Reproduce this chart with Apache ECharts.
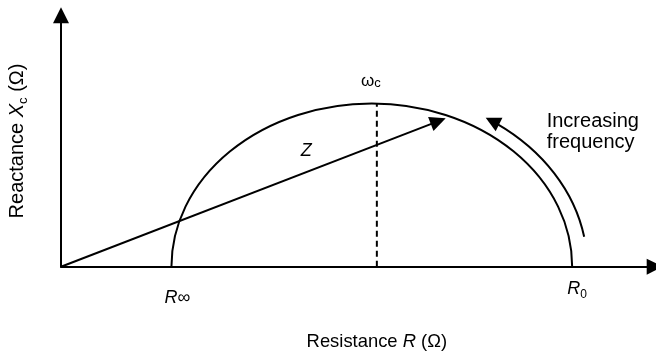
<!DOCTYPE html>
<html><head><meta charset="utf-8">
<script src="https://cdn.jsdelivr.net/npm/echarts@6/dist/echarts.min.js"></script>
<style>html,body{margin:0;padding:0;background:#fff}#c{width:656px;height:353px}</style>
</head><body><div id="c"></div>
<script>
// ---- values (arbitrary Ω units) ----
const resistanceRange = [0, 100];
const reactanceRange = [0, 52];
const rInfinity = 18.6;          // high-frequency intercept R∞
const rZero = 86.1;              // low-frequency intercept R0
const omegaCMarker = [[53.2, 0], [53.2, 33.7]];   // characteristic frequency (dashed)
const zVector = [0, 0, 64.8, 30.7];               // impedance vector Z: from, to
const freqArcRadius = 36.3;                       // "increasing frequency" arrow radius
const freqArcAngles = [9.8, 58.1];                // start / end angle, degrees
const texts = {
  xName: 'Resistance {i|R} (Ω)',
  yName: 'Reactance {i|X}{s|c} (Ω)',
  rInf: '{i|R}∞',
  rZero: '{i|R}{s|0}',
  omega: 'ω{s|c}',
  z: 'Z',
  freq: 'Increasing\nfrequency'
};

const FONT = 'Liberation Sans, Arial, Helvetica, sans-serif';
const BLACK = '#000';
const center = (rInfinity + rZero) / 2;

function arrowHead(tip, dir, len, half) {
  const bx = tip[0] - dir[0] * len, by = tip[1] - dir[1] * len;
  const nx = -dir[1], ny = dir[0];
  return {
    type: 'polygon',
    shape: { points: [tip, [bx + nx * half, by + ny * half], [bx - nx * half, by - ny * half]] },
    style: { fill: BLACK, stroke: null }
  };
}

function richFor(size) {
  return {
    i: { fontStyle: 'italic', fontSize: size, fontFamily: FONT, color: BLACK },
    s: { fontSize: Math.round(size * 0.66), fontFamily: FONT, color: BLACK, padding: [Math.round(size * 0.6), 0, 0, 0] }
  };
}

const chart = echarts.init(document.getElementById('c'), null, { renderer: 'canvas' });
chart.setOption({
  backgroundColor: '#fff',
  animation: false,
  grid: { left: 61, top: 15.3, right: 1.3, bottom: 86.3, containLabel: false, outerBoundsMode: 'none' },
  xAxis: {
    type: 'value', min: resistanceRange[0], max: resistanceRange[1],
    axisLine: { show: true, onZero: false, symbol: ['none', 'triangle'], symbolSize: [16, 16],
      lineStyle: { color: BLACK, width: 2 } },
    axisTick: { show: false }, axisLabel: { show: false }, splitLine: { show: false },
    name: texts.xName, nameLocation: 'middle', nameGap: 66,
    nameTextStyle: { fontSize: 18.4, fontFamily: FONT, color: BLACK, padding: [0, 0, 0, 38], rich: richFor(18.4) }
  },
  yAxis: {
    type: 'value', min: reactanceRange[0], max: reactanceRange[1],
    axisLine: { show: true, onZero: false, symbol: ['none', 'triangle'], symbolSize: [16, 16],
      lineStyle: { color: BLACK, width: 2 } },
    axisTick: { show: false }, axisLabel: { show: false }, splitLine: { show: false },
    name: texts.yName, nameLocation: 'middle', nameGap: 31, nameRotate: 90,
    nameTextStyle: { fontSize: 20, fontFamily: FONT, color: BLACK, rich: richFor(20) }
  },
  series: [
    { // semicircle
      type: 'custom', clip: false, silent: true,
      data: [[rInfinity, rZero]],
      renderItem: function (params, api) {
        const a = api.value(0), b = api.value(1);
        const r = (b - a) / 2;
        const p0 = api.coord([a, 0]), p1 = api.coord([b, 0]);
        const rx = api.size([r, 0])[0], ry = api.size([0, r])[1];
        return {
          type: 'path',
          shape: { pathData: 'M ' + p0[0] + ' ' + p0[1] + ' A ' + rx + ' ' + ry + ' 0 0 1 ' + p1[0] + ' ' + p1[1] },
          style: { fill: 'none', stroke: BLACK, lineWidth: 2 }
        };
      }
    },
    { // dashed omega_c line
      type: 'line', data: omegaCMarker, showSymbol: false, symbol: 'none', silent: true,
      lineStyle: { color: BLACK, width: 2, type: [6, 4] }
    },
    { // impedance vector Z
      type: 'custom', clip: false, silent: true,
      data: [zVector],
      renderItem: function (params, api) {
        const p0 = api.coord([api.value(0), api.value(1)]);
        const p1 = api.coord([api.value(2), api.value(3)]);
        let dx = p1[0] - p0[0], dy = p1[1] - p0[1];
        const L = Math.hypot(dx, dy); dx /= L; dy /= L;
        const len = 16;
        const lineEnd = [p1[0] - dx * (len - 2), p1[1] - dy * (len - 2)];
        return {
          type: 'group',
          children: [
            { type: 'line', shape: { x1: p0[0], y1: p0[1], x2: lineEnd[0], y2: lineEnd[1] },
              style: { stroke: BLACK, lineWidth: 2 } },
            arrowHead(p1, [dx, dy], len, 7.5)
          ]
        };
      }
    },
    { // increasing-frequency arrow
      type: 'custom', clip: false, silent: true,
      data: [[center, freqArcRadius, freqArcAngles[0], freqArcAngles[1]]],
      renderItem: function (params, api) {
        const c = api.value(0), r = api.value(1);
        const t1 = api.value(2) * Math.PI / 180, t2 = api.value(3) * Math.PI / 180;
        const rx = api.size([r, 0])[0], ry = api.size([0, r])[1];
        const tip = api.coord([c + r * Math.cos(t2), r * Math.sin(t2)]);
        let dx = -rx * Math.sin(t2), dy = -ry * Math.cos(t2);
        const speed = Math.hypot(dx, dy); dx /= speed; dy /= speed;
        const len = 15;
        const tEnd = t2 - (len - 2) / speed;
        const s = api.coord([c + r * Math.cos(t1), r * Math.sin(t1)]);
        const e = api.coord([c + r * Math.cos(tEnd), r * Math.sin(tEnd)]);
        return {
          type: 'group',
          children: [
            { type: 'path',
              shape: { pathData: 'M ' + s[0] + ' ' + s[1] + ' A ' + rx + ' ' + ry + ' 0 0 0 ' + e[0] + ' ' + e[1] },
              style: { fill: 'none', stroke: BLACK, lineWidth: 2 } },
            arrowHead(tip, [dx, dy], len, 7.5),
            { type: 'text', x: tip[0] + 61, y: tip[1] - 7,
              style: { text: texts.freq, fontSize: 20, fontFamily: FONT, fill: BLACK,
                align: 'left', verticalAlign: 'top', lineHeight: 21.5 } }
          ]
        };
      }
    },
    { // labels
      type: 'custom', clip: false, silent: true,
      data: [[rInfinity, rZero, omegaCMarker[1][0], omegaCMarker[1][1]]],
      renderItem: function (params, api) {
        const pInf = api.coord([api.value(0), 0]);
        const pZero = api.coord([api.value(1), 0]);
        const pOm = api.coord([api.value(2), api.value(3)]);
        const zMid = api.coord([zVector[2] * 0.64, zVector[3] * 0.64]);
        const mk = function (x, y, text) {
          return { type: 'text', x: x, y: y,
            style: { text: text, rich: richFor(18), fontSize: 18, fontFamily: FONT, fill: BLACK,
              align: 'center', verticalAlign: 'middle' } };
        };
        return {
          type: 'group',
          children: [
            mk(pInf[0] + 6, pInf[1] + 31, texts.rInf),
            mk(pZero[0] + 5, pZero[1] + 22, texts.rZero),
            { type: 'text', x: pOm[0] - 6, y: pOm[1] - 22,
              style: { text: texts.omega, fontSize: 17, fontFamily: FONT, fill: BLACK,
                align: 'center', verticalAlign: 'middle',
                rich: { s: { fontSize: 13, fontFamily: FONT, color: BLACK, padding: [3, 0, 0, 0] } } } },
            { type: 'text', x: zMid[0] - 1, y: zMid[1] - 21,
              style: { text: texts.z, fontSize: 18, fontStyle: 'italic', fontFamily: FONT, fill: BLACK,
                align: 'center', verticalAlign: 'middle' } }
          ]
        };
      }
    }
  ]
});
</script>
</body></html>
